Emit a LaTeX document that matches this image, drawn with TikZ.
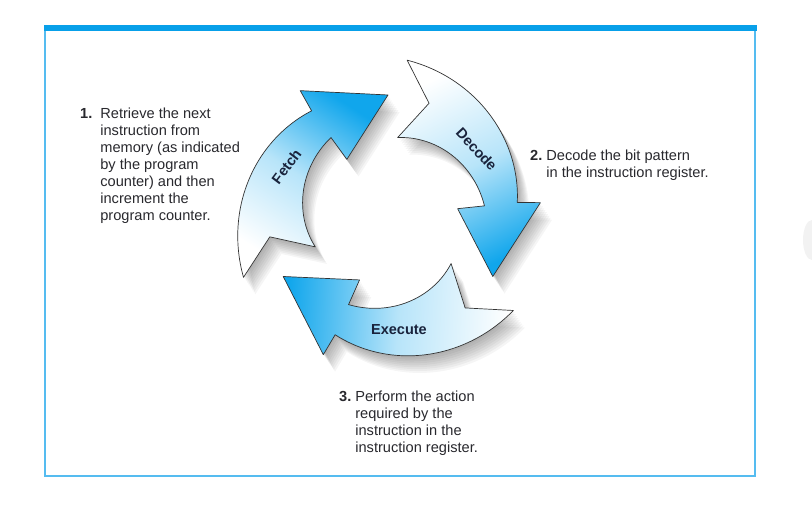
\documentclass[tikz,border=0pt]{standalone}
\usepackage{fontspec}
\setmainfont{Liberation Sans}
\usetikzlibrary{calc}
\definecolor{frameblue}{RGB}{8,160,233}
\definecolor{lineblue}{RGB}{85,188,240}
\definecolor{cycblue}{RGB}{16,166,236}
\definecolor{txtgray}{RGB}{40,40,45}
\definecolor{lblnavy}{RGB}{25,35,60}
\tikzset{desc/.style={font=\fontsize{14.6}{17}\selectfont,text=txtgray,inner sep=0pt,anchor=base west},
  lbl/.style={font=\fontsize{14.5}{16}\selectfont\bfseries,text=lblnavy,inner sep=0pt},
  cyc/.style={draw=black!80,line width=.7pt,line join=round},
  cycshadow/.style={fill=black,opacity=.04,draw=none}}
% one curved arrow of the cycle, #1 = angle of its tail
\newcommand{\cyclearrow}[1]{(#1:157)
  -- plot[domain=0:77,samples=25,smooth,variable=\s] ({#1-\s}:{157-27*\s/77})
  -- ({#1-78}:153) -- ({#1-113}:121) -- ({#1-77}:70) -- ({#1-77}:97)
  -- plot[domain=77:0,samples=25,smooth,variable=\s] ({#1-\s}:{79+18*\s/77})
  -- ({#1-13}:120) -- cycle}

\begin{document}
\begin{tikzpicture}[x=1pt,y=1pt]
\useasboundingbox (0,0) rectangle (812,508);
% frame
\fill[frameblue] (44,477) rectangle (757,483);
\draw[lineblue,line width=1.6pt] (45,477)--(45,32)--(755,32)--(755,477);
\fill[black!5] (812,268) ellipse[x radius=9,y radius=20];
% the three arrows
\begin{scope}[shift={(388,292)}]
\foreach \d in {1,...,9}{
  \fill[cycshadow,shift={(1.3*\d,-1.9*\d)}] \cyclearrow{203};
  \fill[cycshadow,shift={(1.3*\d,-1.9*\d)}] \cyclearrow{83};
  \fill[cycshadow,shift={(1.3*\d,-1.9*\d)}] \cyclearrow{-37};
}
\shade[cyc,top color=cycblue,bottom color=white,middle color=cycblue!30,shading angle=-33] \cyclearrow{203};
\shade[cyc,top color=cycblue,bottom color=white,middle color=cycblue!30,shading angle=-153] \cyclearrow{83};
\shade[cyc,top color=cycblue,bottom color=white,middle color=cycblue!30,shading angle=87] \cyclearrow{-37};
\node[lbl,rotate=53] (fetchlbl) at (154:113) {Fetch};
\node[lbl,rotate=-47] (decodelbl) at (37:111) {Decode};
\node[lbl] (executelbl) at (-84.5:114.5) {Execute};
\end{scope}
% step texts
\node[desc] (fetchtxt) at (80,389) {\begin{tabular}[t]{@{}l@{\hspace{8pt}}l@{}}\bfseries 1. & Retrieve the next\\
  & instruction from\\ & memory (as indicated\\ & by the program\\ & counter) and then\\
  & increment the\\ & program counter.\end{tabular}};
\node[desc] (decodetxt) at (530,347) {\begin{tabular}[t]{@{}l@{\hspace{4pt}}l@{}}\bfseries 2. & Decode the bit pattern\\
  & in the instruction register.\end{tabular}};
\node[desc] (executetxt) at (339,106) {\begin{tabular}[t]{@{}l@{\hspace{4pt}}l@{}}\bfseries 3. & Perform the action\\
  & required by the\\ & instruction in the\\ & instruction register.\end{tabular}};
\end{tikzpicture}
\end{document}
